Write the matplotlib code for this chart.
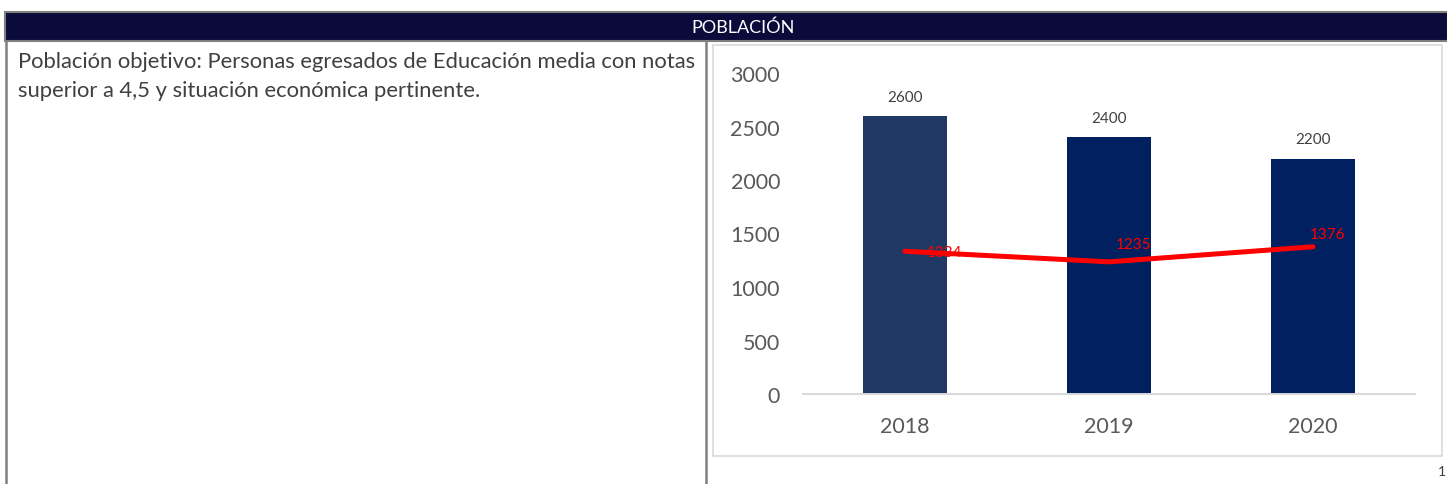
import numpy as np
import matplotlib.pyplot as plt
from matplotlib.patches import Rectangle

# data
years = ["2018", "2019", "2020"]
poblacion = [2600, 2400, 2200]
linea = [1334, 1235, 1376]
y_ticks = [0, 500, 1000, 1500, 2000, 2500, 3000]

header = "POBLACIÓN"
descripcion = ["Población objetivo: Personas egresados de Educación media con notas",
               "superior a 4,5 y situación económica pertinente."]

plt.rcParams["font.family"] = ["Lato", "DejaVu Sans"]

W, H = 1447, 485
fig = plt.figure(figsize=(W / 100, H / 100), dpi=100)

# table frame drawn in pixel coords on a full-figure axes
bg = fig.add_axes([0, 0, 1, 1])
bg.set_xlim(0, W)
bg.set_ylim(H, 0)
bg.axis("off")

bg.add_patch(Rectangle((5, 13), W - 4, 29, facecolor="#0b0b3b",
                       edgecolor="#7f7f7f", linewidth=1.5))
bg.text(743, 28, header, color="white", fontsize=13,
        ha="center", va="center")
bg.plot([6, 6], [42, H], color="#7f7f7f", linewidth=1.8)
bg.plot([706, 706], [42, H], color="#7f7f7f", linewidth=1.8)
bg.add_patch(Rectangle((713, 46), 729, 411, facecolor="white",
                       edgecolor="#d9d9d9", linewidth=1.2))
for line, yb in zip(descripcion, [68, 97]):
    bg.text(18, yb, line, fontsize=15.8, color="#404040",
            ha="left", va="baseline")
bg.text(1442, 472, "1", fontsize=10, color="#404040", ha="center", va="center")

# chart
ax = fig.add_axes([803 / W, 90 / H, (1415 - 803) / W, 321 / H])
x = np.arange(len(years))
colors = ["#203864", "#002060", "#002060"]
ax.bar(x, poblacion, width=0.41, color=colors, zorder=2)
for xi, v in zip(x, poblacion):
    ax.annotate(str(v), (xi, v), xytext=(0, 11), textcoords="offset points",
                ha="center", va="baseline", fontsize=11, color="#404040")

ax.plot(x, linea, color="#ff0000", linewidth=3.6, solid_capstyle="round",
        solid_joinstyle="round", zorder=3)
offsets = [(16, -0.5), (5, 13), (-2, 9)]
for xi, v, off in zip(x, linea, offsets):
    ax.annotate(str(v), (xi, v), xytext=off, textcoords="offset points",
                ha="left", va="center", fontsize=11, color="#ff0000", zorder=4)

ax.set_xlim(-0.5, 2.5)
ax.set_ylim(0, 3000)
ax.set_yticks(y_ticks)
ax.set_xticks(x)
ax.set_xticklabels(years)
ax.tick_params(axis="both", length=0, labelsize=15.5, colors="#595959")
ax.tick_params(axis="y", pad=16.5)
ax.tick_params(axis="x", pad=16)
for s in ["top", "right", "left"]:
    ax.spines[s].set_visible(False)
ax.spines["bottom"].set_color("#d9d9d9")
ax.spines["bottom"].set_linewidth(1.4)
ax.patch.set_alpha(0)

fig.savefig("out.png", dpi=100)
